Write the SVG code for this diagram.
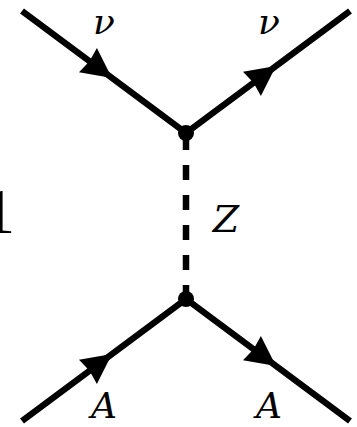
<svg xmlns="http://www.w3.org/2000/svg" width="357" height="427" viewBox="0 0 357 427">
  <style>
    .fermion { stroke: #000; stroke-width: 6.5; fill: none; stroke-linecap: butt; }
    .boson { stroke: #000; stroke-width: 6.5; fill: none; stroke-dasharray: 15 15; }
    .vertex { fill: #000; }
    .label { font-family: "DejaVu Serif", "Liberation Serif", serif; font-style: italic; font-size: 38px; fill: #000; text-anchor: middle; }
    .nu { font-size: 36px; }
    .a { font-size: 36px; }
    .stray { font-family: "Liberation Serif", "DejaVu Serif", serif; font-size: 64px; fill: #000; }
  </style>
  <defs>
    <path id="arrowhead" d="M0,0 L-30,-15 L-28,0 L-30,15 Z" fill="#000"/>
  </defs>
  <rect width="357" height="427" fill="#fff"/>
  <text class="stray" x="-17" y="233">1</text>
  <g id="connectors">
    <path class="fermion" d="M22,11 L186,133"/>
    <path class="fermion" d="M186,133 L350,11"/>
    <path class="boson" d="M186,135 L186,299"/>
    <path class="fermion" d="M22,421 L186,299"/>
    <path class="fermion" d="M186,299 L350,421"/>
    <use href="#arrowhead" transform="translate(112,78) rotate(36.65)"/>
    <use href="#arrowhead" transform="translate(276,66) rotate(-36.65)"/>
    <use href="#arrowhead" transform="translate(112,354) rotate(-36.65)"/>
    <use href="#arrowhead" transform="translate(276,366) rotate(36.65)"/>
  </g>
  <g id="vertex-top"><circle class="vertex" cx="186" cy="133" r="8"/></g>
  <g id="vertex-bottom"><circle class="vertex" cx="186" cy="299" r="8"/></g>
  <g id="label-nu-in"><text class="label nu" x="104" y="34">ν</text></g>
  <g id="label-nu-out"><text class="label nu" x="269" y="34">ν</text></g>
  <g id="label-Z"><text class="label" x="226" y="232">Z</text></g>
  <g id="label-A-in"><text class="label a" x="104" y="418">A</text></g>
  <g id="label-A-out"><text class="label a" x="269" y="418">A</text></g>
</svg>
